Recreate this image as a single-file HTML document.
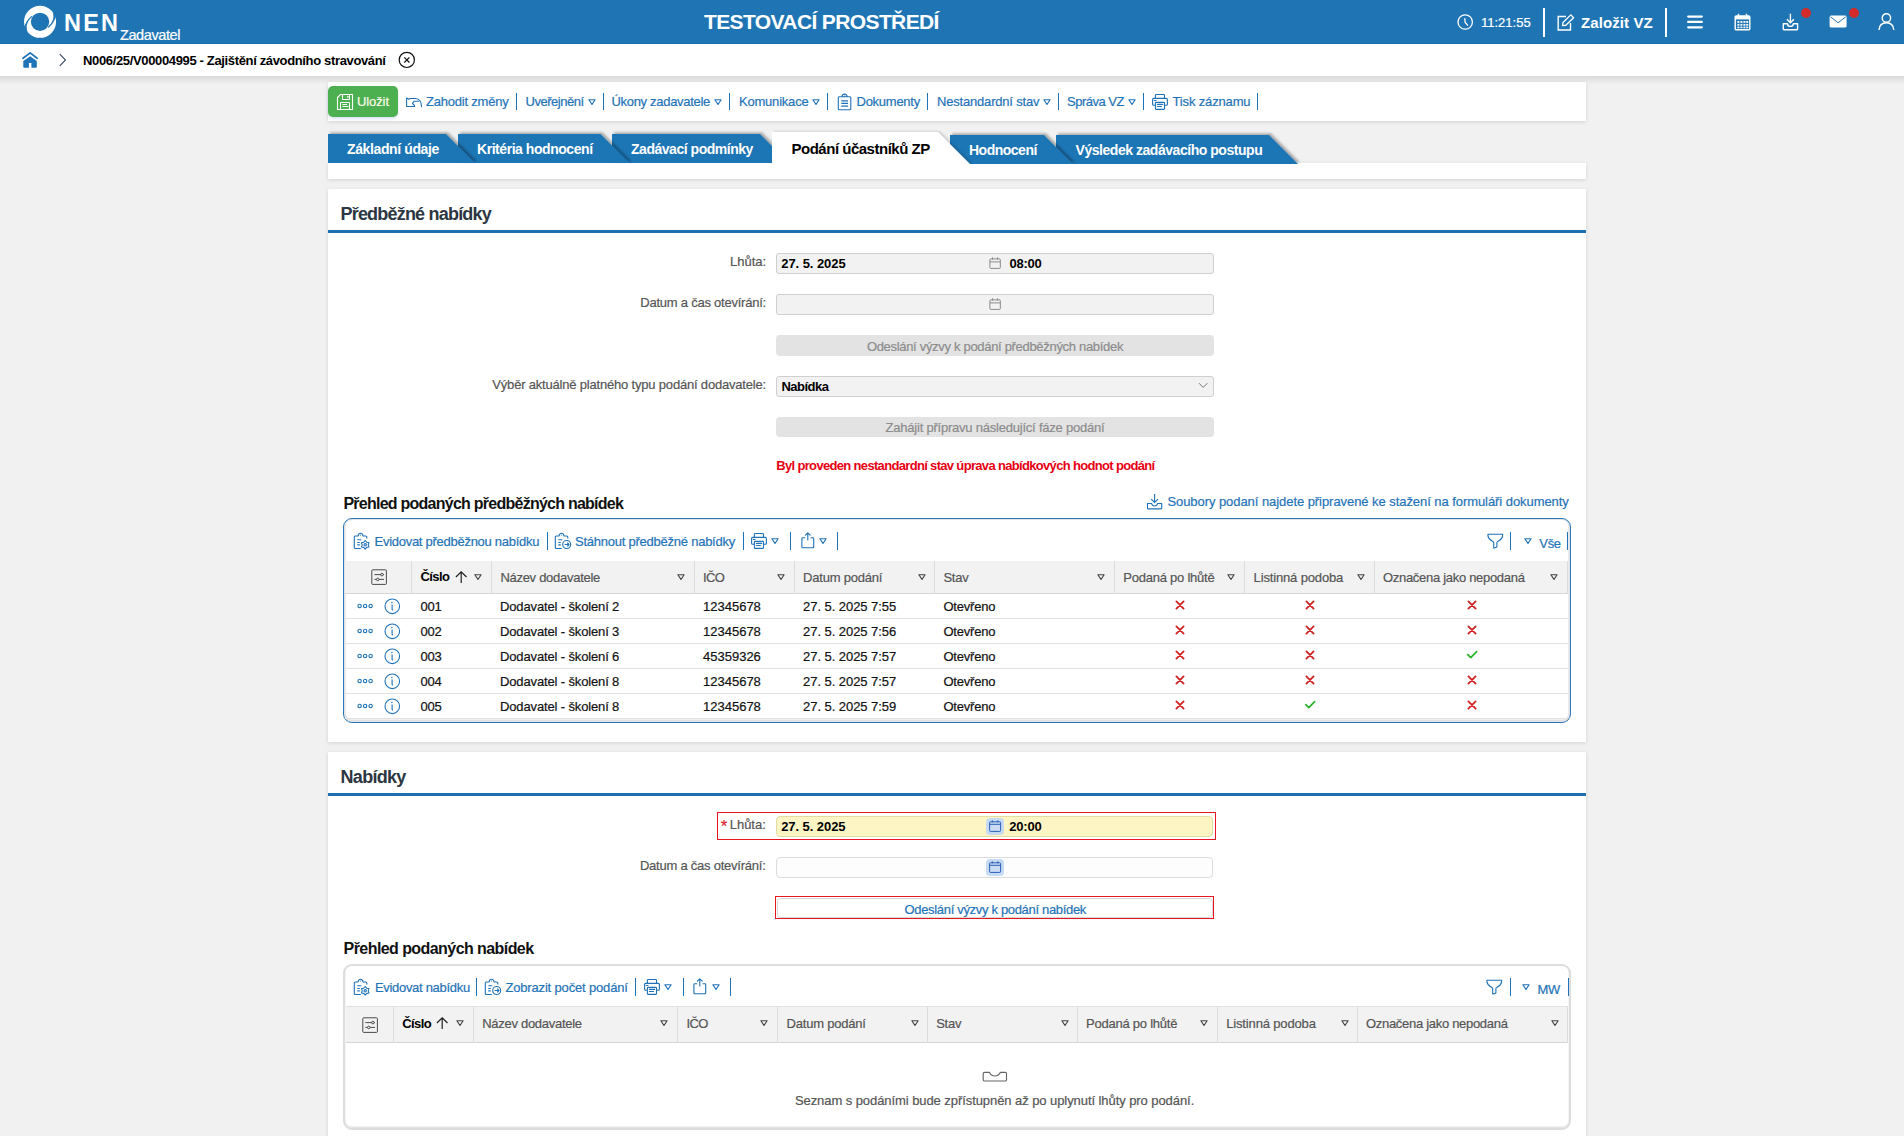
<!DOCTYPE html>
<html><head><meta charset="utf-8">
<style>
*{box-sizing:border-box;margin:0;padding:0}
html,body{width:1904px;height:1136px;overflow:hidden}
body{position:relative;background:#f1f1f1;font-family:"Liberation Sans",sans-serif;font-size:13px;color:#222}
.a{position:absolute}
.t{position:absolute;white-space:nowrap;line-height:1;-webkit-text-stroke:0.2px currentColor}
.t[style*="font-weight:700"]{-webkit-text-stroke:0}
svg{position:absolute;overflow:visible}
#hdr{left:0;top:0;width:1904px;height:44px;background:#1f75b4;border-bottom:1px solid #186aac;box-shadow:0 1px 1px rgba(0,60,120,.25)}
#bc{left:0;top:44px;width:1904px;height:32px;background:#fff}
#bcsh{left:0;top:76px;width:1904px;height:8px;background:linear-gradient(#d9d9d9,#f1f1f1)}
.card{position:absolute;background:#fff;box-shadow:0 1px 4px rgba(0,0,0,.13)}
.lnk{color:#1f73b7}
.sep{position:absolute;width:1px;background:#1f73b7}
.tri{position:absolute;width:0;height:0}
</style></head><body>
<!-- HEADER -->
<div id="hdr" class="a"></div>
<svg style="left:0;top:0" width="70" height="44" viewBox="0 0 70 44">
 <circle cx="40.05" cy="21.85" r="12.6" fill="none" stroke="#fff" stroke-width="6.8"/>
 <path d="M24.1 27.6 Q25.6 21.2 31.3 15.9 L32.5 16.6 Q27.7 20.8 26.7 25.6 Q26.4 29.5 27.6 32.6 Z" fill="#1f75b4"/>
 <path d="M56 16.1 Q54.5 22.5 48.8 27.8 L47.6 27.1 Q52.4 22.9 53.4 18.1 Q53.7 14.2 52.5 11.1 Z" fill="#1f75b4"/>
</svg>
<div class="t" style="left:64px;top:12px;font-size:23.5px;font-weight:700;color:#fff;letter-spacing:2.2px">NEN</div>
<div class="t" style="left:120px;top:28px;font-size:14.5px;color:#fff;letter-spacing:-0.4px">Zadavatel</div>
<div class="t" style="left:704px;top:11px;font-size:21px;font-weight:700;color:#fff;letter-spacing:-0.62px">TESTOVACÍ PROSTŘEDÍ</div>
<!-- header right -->
<svg style="left:1457px;top:14px" width="17" height="17" viewBox="0 0 17 17"><circle cx="8.2" cy="8" r="7.2" fill="none" stroke="#fff" stroke-width="1.3"/><path d="M7.8 4.6 L8.2 8.4 L10.6 11.2" fill="none" stroke="#fff" stroke-width="1.3" stroke-linecap="round"/></svg>
<div class="t" style="left:1481px;top:16px;font-size:13px;color:#fff;letter-spacing:0px">11:21:55</div>
<div class="a" style="left:1543px;top:8px;width:2px;height:29px;background:#fff"></div>
<svg style="left:1557px;top:14px" width="18" height="17" viewBox="0 0 18 17"><path d="M9 2.5 H1.2 V16 H13.5 V9" fill="none" stroke="#fff" stroke-width="1.4"/><path d="M5.5 11.5 L6 8.5 L13.8 0.9 L16.6 3.7 L8.8 11.3 Z" fill="none" stroke="#fff" stroke-width="1.3" stroke-linejoin="round"/></svg>
<div class="t" style="left:1581px;top:15px;font-size:15px;font-weight:700;color:#fff;letter-spacing:0.1px">Založit VZ</div>
<div class="a" style="left:1665px;top:8px;width:2px;height:29px;background:#fff"></div>
<svg style="left:1687px;top:15px" width="16" height="14" viewBox="0 0 16 14"><path d="M1.2 1.6 H14.8 M1.2 6.9 H14.8 M1.2 12.3 H14.8" stroke="#fff" stroke-width="2.3" stroke-linecap="round"/></svg>
<svg style="left:1734px;top:13px" width="17" height="18" viewBox="0 0 17 18"><rect x="1.2" y="3" width="14.6" height="13.8" rx="1" fill="none" stroke="#fff" stroke-width="1.4"/><rect x="1.2" y="3" width="14.6" height="3.4" fill="#fff"/><path d="M4.5 0.8 V4 M12.5 0.8 V4" stroke="#fff" stroke-width="1.4"/><g fill="#fff"><rect x="3.4" y="8" width="2" height="1.8"/><rect x="6.4" y="8" width="2" height="1.8"/><rect x="9.4" y="8" width="2" height="1.8"/><rect x="12.2" y="8" width="2" height="1.8"/><rect x="3.4" y="10.9" width="2" height="1.8"/><rect x="6.4" y="10.9" width="2" height="1.8"/><rect x="9.4" y="10.9" width="2" height="1.8"/><rect x="12.2" y="10.9" width="2" height="1.8"/><rect x="3.4" y="13.6" width="2" height="1.6"/><rect x="6.4" y="13.6" width="2" height="1.6"/><rect x="9.4" y="13.6" width="2" height="1.6"/><rect x="12.2" y="13.6" width="2" height="1.6"/></g></svg>
<svg style="left:1782px;top:13px" width="17" height="18" viewBox="0 0 17 18"><path d="M8.4 0.8 V9.5 M4.9 6.3 L8.4 9.8 L11.9 6.3" fill="none" stroke="#fff" stroke-width="1.4"/><path d="M1.3 10.8 V16.1 Q1.3 16.7 1.9 16.7 H15 Q15.6 16.7 15.6 16.1 V10.8 H11.3 Q11 13.4 8.4 13.4 Q5.8 13.4 5.5 10.8 Z" fill="none" stroke="#fff" stroke-width="1.4" stroke-linejoin="round"/></svg>
<div class="a" style="left:1801px;top:8px;width:10px;height:10px;border-radius:50%;background:#d12b2b"></div>
<svg style="left:1829px;top:15px" width="19" height="14" viewBox="0 0 19 14"><rect x="0.6" y="0.6" width="17" height="12" rx="1.5" fill="#fff"/><path d="M1.5 1.8 L9.1 7.8 L16.7 1.8" fill="none" stroke="#1f75b4" stroke-width="1"/></svg>
<div class="a" style="left:1849px;top:8px;width:10px;height:10px;border-radius:50%;background:#d12b2b"></div>
<svg style="left:1878px;top:13px" width="17" height="18" viewBox="0 0 17 18"><circle cx="8.4" cy="5" r="4.2" fill="none" stroke="#fff" stroke-width="1.4"/><path d="M1 17 Q1.5 9.8 8.4 9.8 Q15.3 9.8 15.8 17" fill="none" stroke="#fff" stroke-width="1.4"/></svg>
<div id="bc" class="a"></div>
<svg style="left:21px;top:51px" width="18" height="18" viewBox="0 0 18 18"><path d="M2 7.3 L9.2 1.9 L16.1 7.3" fill="none" stroke="#1f73b7" stroke-width="1.8" stroke-linecap="round" stroke-linejoin="round"/><path d="M2.3 10.1 L9.2 5.2 L15.8 10.1 V16 Q15.8 16.8 15 16.8 H10.4 V12.1 H7.9 V16.8 H3.1 Q2.3 16.8 2.3 16 Z" fill="#1f73b7"/></svg>
<svg style="left:58px;top:53px" width="10" height="14" viewBox="0 0 10 14"><path d="M1.8 1.1 L7.5 7 L1.8 12.8" fill="none" stroke="#3b4a5e" stroke-width="1.1"/></svg>
<div class="t" style="left:83px;top:54px;font-size:13px;font-weight:700;color:#000;letter-spacing:-0.35px">N006/25/V00004995 - Zajištění závodního stravování</div>
<svg style="left:398px;top:51px" width="18" height="18" viewBox="0 0 18 18"><circle cx="8.8" cy="8.9" r="7.6" fill="none" stroke="#111" stroke-width="1.2"/><path d="M6.3 6.4 L11.4 11.5 M11.4 6.4 L6.3 11.5" stroke="#111" stroke-width="1.2"/></svg>
<div id="bcsh" class="a"></div>
<!-- TOOLBAR -->
<div class="card" style="left:328px;top:82px;width:1258px;height:39px"></div>
<div class="a" style="left:328px;top:86px;width:70px;height:31px;border-radius:5px;background:#4caf50;box-shadow:0 2px 3px rgba(60,100,200,.18)"></div>
<svg style="left:336px;top:93px" width="18" height="18" viewBox="0 0 18 18"><path d="M1.5 4.5 L4.5 1.5 H16.5 V16.5 H1.5 Z" fill="none" stroke="#fff" stroke-width="1.1" stroke-linejoin="round"/><path d="M6.5 1.5 V6.5 H13.5 V1.5" fill="none" stroke="#fff" stroke-width="1"/><rect x="11.2" y="2.8" width="1.3" height="2" fill="#fff"/><path d="M4.5 16.5 V9.5 H13.5 V16.5" fill="none" stroke="#fff" stroke-width="1"/><path d="M6.4 11.5 H11 M6.4 13.5 H12.6" stroke="#fff" stroke-width="1"/></svg>
<div class="t" style="left:357px;top:95px;color:#fbfbe8;letter-spacing:-0.1px">Uložit</div>
<svg style="left:402px;top:93px" width="24" height="18" viewBox="0 0 24 18"><path d="M4.6 13.5 V5.6 Q4.6 4.9 5.3 5.3 L6.7 6.3 L8.2 5.5 H13.6 C17.4 5.5 19.5 9.2 19.5 13.6" fill="none" stroke="#1f72b8" stroke-width="1.1" stroke-linejoin="round" stroke-linecap="round"/><path d="M17.2 8.2 H12.4 L10.4 10.3 L12.5 12.5 V13.5 H4.6" fill="none" stroke="#1f72b8" stroke-width="1.1" stroke-linejoin="round"/></svg>
<div class="t lnk" style="left:426px;top:95px;letter-spacing:-0.21px;">Zahodit změny</div><div class="a" style="left:516px;top:93px;width:1.2px;height:17px;background:#1f72b8"></div><div class="t lnk" style="left:525.5px;top:95px;letter-spacing:-0.48px;">Uveřejnění</div><svg style="left:588px;top:99px" width="8" height="7" viewBox="0 0 8 7"><path d="M0.9 0.7 H7.1 L4 5.5 Z" fill="none" stroke="#1f72b8" stroke-width="1.15" stroke-linejoin="round"/></svg><div class="a" style="left:603px;top:93px;width:1.2px;height:17px;background:#1f72b8"></div><div class="t lnk" style="left:611.5px;top:95px;letter-spacing:-0.31px;">Úkony zadavatele</div><svg style="left:714px;top:99px" width="8" height="7" viewBox="0 0 8 7"><path d="M0.9 0.7 H7.1 L4 5.5 Z" fill="none" stroke="#1f72b8" stroke-width="1.15" stroke-linejoin="round"/></svg><div class="a" style="left:729px;top:93px;width:1.2px;height:17px;background:#1f72b8"></div><div class="t lnk" style="left:739px;top:95px;letter-spacing:-0.21px;">Komunikace</div><svg style="left:812px;top:99px" width="8" height="7" viewBox="0 0 8 7"><path d="M0.9 0.7 H7.1 L4 5.5 Z" fill="none" stroke="#1f72b8" stroke-width="1.15" stroke-linejoin="round"/></svg><div class="a" style="left:826.5px;top:93px;width:1.2px;height:17px;background:#1f72b8"></div><svg style="left:834px;top:90px" width="22" height="22" viewBox="0 0 22 22"><path d="M7.8 6.8 H5.3 Q4.3 6.8 4.3 7.8 V18.8 Q4.3 19.8 5.3 19.8 H15.8 Q16.8 19.8 16.8 18.8 V7.8 Q16.8 6.8 15.8 6.8 H13.2 M7.8 6.8 Q8.2 4.1 10.5 4.1 Q12.8 4.1 13.2 6.8 Z" fill="none" stroke="#1f72b8" stroke-width="1.1" stroke-linejoin="round"/><path d="M7.3 10.9 H14 M7.3 13.4 H14 M7.3 16.1 H14" stroke="#1f72b8" stroke-width="1.1"/><circle cx="10.5" cy="6.2" r="0.6" fill="#1f72b8"/></svg>
<div class="t lnk" style="left:856.5px;top:95px;letter-spacing:-0.26px;">Dokumenty</div><div class="a" style="left:927px;top:93px;width:1.2px;height:17px;background:#1f72b8"></div><div class="t lnk" style="left:937px;top:95px;letter-spacing:-0.19px;">Nestandardní stav</div><svg style="left:1043px;top:99px" width="8" height="7" viewBox="0 0 8 7"><path d="M0.9 0.7 H7.1 L4 5.5 Z" fill="none" stroke="#1f72b8" stroke-width="1.15" stroke-linejoin="round"/></svg><div class="a" style="left:1058px;top:93px;width:1.2px;height:17px;background:#1f72b8"></div><div class="t lnk" style="left:1067px;top:95px;letter-spacing:-0.5px;">Správa VZ</div><svg style="left:1128px;top:99px" width="8" height="7" viewBox="0 0 8 7"><path d="M0.9 0.7 H7.1 L4 5.5 Z" fill="none" stroke="#1f72b8" stroke-width="1.15" stroke-linejoin="round"/></svg><div class="a" style="left:1143px;top:93px;width:1.2px;height:17px;background:#1f72b8"></div><svg style="left:1149px;top:91px" width="22" height="22" viewBox="0 0 22 22"><path d="M6.4 7.4 V4.3 Q6.4 3.5 7.2 3.5 H14.7 Q15.5 3.5 15.5 4.3 V7.4" fill="none" stroke="#1f72b8" stroke-width="1.1"/><path d="M6.4 14.3 H4.6 Q3.6 14.3 3.6 13.3 V8.4 Q3.6 7.4 4.6 7.4 H17.4 Q18.4 7.4 18.4 8.4 V13.3 Q18.4 14.3 17.4 14.3 H15.5" fill="none" stroke="#1f72b8" stroke-width="1.1"/><rect x="6.4" y="11.4" width="9.1" height="7" rx="0.6" fill="none" stroke="#1f72b8" stroke-width="1.1"/><path d="M5.3 9.5 H7 M8.4 13.4 H13.7 M8.4 15.5 H12.5" stroke="#1f72b8" stroke-width="1.1" stroke-linecap="round"/></svg><div class="t lnk" style="left:1172.5px;top:95px;letter-spacing:-0.15px;">Tisk záznamu</div><div class="a" style="left:1257px;top:93px;width:1.2px;height:17px;background:#1f72b8"></div>
<!-- TABS -->
<div class="card" style="left:328px;top:163px;width:1258px;height:16px"></div>
<svg style="left:0;top:0" width="1400" height="200" viewBox="0 0 1400 200">
<defs><filter id="ts" x="-5%" y="-30%" width="110%" height="160%"><feDropShadow dx="2" dy="-1.6" stdDeviation="0.9" flood-color="#000" flood-opacity="0.3"/></filter><filter id="ta" x="-5%" y="-30%" width="110%" height="160%"><feDropShadow dx="2" dy="-0.6" stdDeviation="1.1" flood-color="#000" flood-opacity="0.16"/></filter></defs>
<rect x="328" y="163" width="1258" height="16" fill="#fff"/>
<polygon points="1056,135 1269,135 1298,164 1056,164" fill="#1f75b4" filter="url(#ts)"/>
<polygon points="950,135 1044,135 1073,164 950,164" fill="#1f75b4" filter="url(#ts)"/>
<polygon points="612,134 760,134 789,163 612,163" fill="#1f75b4" filter="url(#ts)"/>
<polygon points="458,134 600.5,134 629.5,163 458,163" fill="#1f75b4" filter="url(#ts)"/>
<polygon points="328,134 446,134 475,163 328,163" fill="#1f75b4" filter="url(#ts)"/>
<polygon points="772,132 938,132 970,164 772,164" fill="#fff" filter="url(#ta)"/>
<rect x="328" y="164" width="1258" height="15" fill="#fff"/>
</svg>
<div class="t" style="left:347px;top:141.8px;font-size:14px;font-weight:700;color:#fff;letter-spacing:-0.38px">Základní údaje</div>
<div class="t" style="left:477px;top:141.8px;font-size:14px;font-weight:700;color:#fff;letter-spacing:-0.45px">Kritéria hodnocení</div>
<div class="t" style="left:631px;top:141.8px;font-size:14px;font-weight:700;color:#fff;letter-spacing:-0.47px">Zadávací podmínky</div>
<div class="t" style="left:791.5px;top:141.1px;font-size:15px;font-weight:700;color:#000;letter-spacing:-0.49px">Podání účastníků ZP</div>
<div class="t" style="left:969px;top:143px;font-size:14px;font-weight:700;color:#fff;letter-spacing:-0.5px">Hodnocení</div>
<div class="t" style="left:1075.5px;top:143px;font-size:14px;font-weight:700;color:#fff;letter-spacing:-0.46px">Výsledek zadávacího postupu</div>
<!-- CARD 1 -->
<div class="card" style="left:328px;top:189px;width:1258px;height:553px"></div>
<div class="t" style="left:340.5px;top:204.8px;font-size:18px;font-weight:700;color:#2b3642;letter-spacing:-0.8px">Předběžné nabídky</div>
<div class="a" style="left:328px;top:230px;width:1258px;height:3px;background:#1e6fb0"></div>
<div class="t" style="right:1138px;top:254.8px;color:#555;letter-spacing:-0.04px">Lhůta:</div>
<div class="a" style="left:776px;top:253px;width:438px;height:21px;border:1px solid #cfcfcf;border-radius:3px;background:#f2f2f2"></div>
<div class="t" style="left:781.3px;top:256.7px;font-weight:700;color:#000;letter-spacing:-0.07px">27. 5. 2025</div>
<svg style="left:989px;top:256.5px" width="13" height="13" viewBox="0 0 13 13"><rect x="0.9" y="1.9" width="10.4" height="9.5" rx="0.8" fill="none" stroke="#8a8a8a" stroke-width="1"/><path d="M0.9 4.9 H11.3 M3.5 0.3 V2.6 M8.6 0.3 V2.6" stroke="#8a8a8a" stroke-width="1"/></svg><div class="t" style="left:1009.5px;top:256.7px;font-weight:700;color:#000;letter-spacing:-0.23px">08:00</div>
<div class="t" style="right:1138px;top:295.8px;color:#555;letter-spacing:-0.23px">Datum a čas otevírání:</div>
<div class="a" style="left:776px;top:294px;width:438px;height:21px;border:1px solid #cfcfcf;border-radius:3px;background:#f2f2f2"></div>
<svg style="left:989px;top:297.5px" width="13" height="13" viewBox="0 0 13 13"><rect x="0.9" y="1.9" width="10.4" height="9.5" rx="0.8" fill="none" stroke="#8a8a8a" stroke-width="1"/><path d="M0.9 4.9 H11.3 M3.5 0.3 V2.6 M8.6 0.3 V2.6" stroke="#8a8a8a" stroke-width="1"/></svg><div class="a" style="left:776px;top:335px;width:438px;height:21px;border-radius:4px;background:#e3e3e3"></div>
<div class="t" style="left:776px;width:438px;text-align:center;top:340px;color:#8c8c8c;letter-spacing:-0.31px">Odeslání výzvy k podání předběžných nabídek</div>
<div class="t" style="right:1138px;top:378.1px;color:#555;letter-spacing:-0.19px">Výběr aktuálně platného typu podání dodavatele:</div>
<div class="a" style="left:776px;top:376px;width:438px;height:21px;border:1px solid #cfcfcf;border-radius:3px;background:#f2f2f2"></div>
<div class="t" style="left:781.5px;top:380.1px;font-weight:700;color:#000;letter-spacing:-0.52px">Nabídka</div>
<svg style="left:1198px;top:382px" width="11" height="8" viewBox="0 0 11 8"><path d="M1 1.2 L5.2 5.4 L9.4 1.2" fill="none" stroke="#777" stroke-width="1"/></svg>
<div class="a" style="left:776px;top:417px;width:438px;height:20px;border-radius:4px;background:#e3e3e3"></div>
<div class="t" style="left:776px;width:438px;text-align:center;top:421px;color:#8c8c8c;letter-spacing:-0.22px">Zahájit přípravu následující fáze podání</div>
<div class="t" style="left:776.3px;top:459.2px;font-weight:700;color:#e60012;letter-spacing:-0.67px">Byl proveden nestandardní stav úprava nabídkových hodnot podání</div>
<!-- CARD1 TABLE -->
<div class="t" style="left:343.4px;top:496px;font-size:16px;font-weight:700;color:#111;letter-spacing:-0.75px">Přehled podaných předběžných nabídek</div>
<svg style="left:1146px;top:493px" width="18" height="17" viewBox="0 0 18 17"><path d="M8.6 0.9 V9.4 M5.2 6.1 L8.6 9.5 L12 6.1" fill="none" stroke="#1f72b8" stroke-width="1.1"/><path d="M1.5 10.5 V15.3 Q1.5 15.9 2.1 15.9 H15.1 Q15.7 15.9 15.7 15.3 V10.5 H11.5 Q11.2 13 8.6 13 Q6 13 5.7 10.5 Z" fill="none" stroke="#1f72b8" stroke-width="1.1" stroke-linejoin="round"/></svg>
<div class="t lnk" style="left:1167.4px;top:495px;letter-spacing:-0.06px;">Soubory podaní najdete připravené ke stažení na formuláři dokumenty</div>
<div class="a" style="left:343px;top:518px;width:1228px;height:204.5px;border:1.2px solid #2a78bb;border-radius:9px;background:#fff;box-shadow:inset 0 -0.8px 0 1.7px #e3e3e3"></div>
<svg style="left:348.5px;top:528px" width="22" height="22" viewBox="0 0 22 22"><g fill="none" stroke="#1f72b8" stroke-width="1.1" stroke-linejoin="round"><path d="M17.8 10.6 V9 Q17.8 8 16.8 8 H14 Q13.6 5.3 11.5 5.3 Q9.5 5.3 9.1 8 H6.3 Q5.3 8 5.3 9 V19.5 Q5.3 20.5 6.3 20.5 H11.8"/><path d="M8.3 11.8 H12.3 M8.3 14.5 H10.8 M8.3 16.9 H10.8"/><polygon points="16.20,12.50 17.70,14.20 19.92,14.65 19.20,16.80 19.92,18.95 17.70,19.40 16.20,21.10 14.70,19.40 12.48,18.95 13.20,16.80 12.48,14.65 14.70,14.20"/><circle cx="16.2" cy="16.8" r="1.2"/></g><circle cx="11.5" cy="7" r="0.6" fill="#1f72b8"/></svg><div class="t lnk" style="left:374.5px;top:534.8px;letter-spacing:-0.27px;">Evidovat předběžnou nabídku</div><div class="a" style="left:546.5px;top:532px;width:1.2px;height:18px;background:#1f72b8"></div>
<svg style="left:550px;top:528px" width="22" height="22" viewBox="0 0 22 22"><g fill="none" stroke="#1f72b8" stroke-width="1.1" stroke-linejoin="round"><path d="M17.8 10.6 V9 Q17.8 8 16.8 8 H14 Q13.6 5.3 11.5 5.3 Q9.5 5.3 9.1 8 H6.3 Q5.3 8 5.3 9 V19.5 Q5.3 20.5 6.3 20.5 H11.8"/><path d="M8.3 11.8 H12.3 M8.3 14.5 H10.8 M8.3 16.9 H10.8"/><circle cx="16.7" cy="16.5" r="4"/><path d="M14.6 16.5 H19 M17.2 14.7 L19 16.5 L17.2 18.3"/></g><circle cx="11.5" cy="7" r="0.6" fill="#1f72b8"/></svg><div class="t lnk" style="left:575px;top:534.8px;letter-spacing:-0.24px;">Stáhnout předběžné nabídky</div><div class="a" style="left:742.5px;top:532px;width:1.2px;height:18px;background:#1f72b8"></div>
<svg style="left:748px;top:530px" width="22" height="22" viewBox="0 0 22 22"><path d="M6.4 7.4 V4.3 Q6.4 3.5 7.2 3.5 H14.7 Q15.5 3.5 15.5 4.3 V7.4" fill="none" stroke="#1f72b8" stroke-width="1.1"/><path d="M6.4 14.3 H4.6 Q3.6 14.3 3.6 13.3 V8.4 Q3.6 7.4 4.6 7.4 H17.4 Q18.4 7.4 18.4 8.4 V13.3 Q18.4 14.3 17.4 14.3 H15.5" fill="none" stroke="#1f72b8" stroke-width="1.1"/><rect x="6.4" y="11.4" width="9.1" height="7" rx="0.6" fill="none" stroke="#1f72b8" stroke-width="1.1"/><path d="M5.3 9.5 H7 M8.4 13.4 H13.7 M8.4 15.5 H12.5" stroke="#1f72b8" stroke-width="1.1" stroke-linecap="round"/></svg><svg style="left:771px;top:538px" width="8" height="7" viewBox="0 0 8 7"><path d="M0.9 0.7 H7.1 L4 5.5 Z" fill="none" stroke="#1f72b8" stroke-width="1.15" stroke-linejoin="round"/></svg><div class="a" style="left:790.3px;top:532px;width:1.2px;height:18px;background:#1f72b8"></div><svg style="left:800.5px;top:532.3px" width="15" height="17" viewBox="0 0 15 17"><path d="M4.2 5.7 H1.6 Q0.9 5.7 0.9 6.4 V15.1 Q0.9 15.8 1.6 15.8 H12 Q12.7 15.8 12.7 15.1 V6.4 Q12.7 5.7 12 5.7 H9.6" fill="none" stroke="#1f72b8" stroke-width="1.1"/><path d="M6.8 8 V0.9 M4.4 3.2 L6.8 0.8 L9.2 3.2" fill="none" stroke="#1f72b8" stroke-width="1.1" stroke-linecap="round" stroke-linejoin="round"/></svg><svg style="left:819px;top:538px" width="8" height="7" viewBox="0 0 8 7"><path d="M0.9 0.7 H7.1 L4 5.5 Z" fill="none" stroke="#1f72b8" stroke-width="1.15" stroke-linejoin="round"/></svg><div class="a" style="left:837.3px;top:532px;width:1.2px;height:18px;background:#1f72b8"></div>
<svg style="left:1486.9px;top:532.9px" width="17" height="16" viewBox="0 0 17 16"><path d="M0.9 1.2 H15.7 Q16 5.8 10.7 8.4 Q9.9 8.8 9.9 9.8 V13.9 L7.3 15.1 Q6.7 15.3 6.7 14.7 V9.8 Q6.7 8.8 5.9 8.4 Q0.6 5.8 0.9 1.2 Z" fill="none" stroke="#1f72b8" stroke-width="1.1" stroke-linejoin="round"/></svg><div class="a" style="left:1510.3px;top:532px;width:1.2px;height:18px;background:#1f72b8"></div><svg style="left:1523.5px;top:538.3px" width="8" height="7" viewBox="0 0 8 7"><path d="M0.9 0.7 H7.1 L4 5.5 Z" fill="none" stroke="#1f72b8" stroke-width="1.15" stroke-linejoin="round"/></svg><div class="t lnk" style="left:1539.3px;top:536.8px;letter-spacing:-0.33px;">Vše</div><div class="a" style="left:1567.3px;top:532px;width:1.2px;height:18px;background:#1f72b8"></div>
<div class="a" style="left:344.5px;top:560.5px;width:1223.5px;height:33px;background:#f2f2f2;border-bottom:1px solid #d6d6d6"></div>
<div class="a" style="left:411.0px;top:560.5px;width:1px;height:33px;background:#dcdcdc"></div><div class="a" style="left:491.0px;top:560.5px;width:1px;height:33px;background:#dcdcdc"></div><div class="a" style="left:694.0px;top:560.5px;width:1px;height:33px;background:#dcdcdc"></div><div class="a" style="left:794.0px;top:560.5px;width:1px;height:33px;background:#dcdcdc"></div><div class="a" style="left:934.0px;top:560.5px;width:1px;height:33px;background:#dcdcdc"></div><div class="a" style="left:1114.0px;top:560.5px;width:1px;height:33px;background:#dcdcdc"></div><div class="a" style="left:1244.0px;top:560.5px;width:1px;height:33px;background:#dcdcdc"></div><div class="a" style="left:1374.0px;top:560.5px;width:1px;height:33px;background:#dcdcdc"></div><div class="a" style="left:1567.0px;top:560.5px;width:1px;height:33px;background:#dcdcdc"></div>
<svg style="left:371px;top:569px" width="17" height="17" viewBox="0 0 17 17"><rect x="0.8" y="0.8" width="14.6" height="14.6" rx="0.8" fill="none" stroke="#4a4a4a" stroke-width="1"/><path d="M3.4 5.6 H9.6 M12.2 5.6 H13 M3.4 10.4 H5.4 M8.1 10.4 H13" stroke="#4a4a4a" stroke-width="1"/><circle cx="10.9" cy="5.6" r="1.3" fill="none" stroke="#4a4a4a" stroke-width="1"/><circle cx="6.8" cy="10.4" r="1.3" fill="none" stroke="#4a4a4a" stroke-width="1"/></svg>
<div class="t" style="left:420.4px;top:570.3px;font-weight:700;color:#000;letter-spacing:-0.58px">Číslo</div><svg style="left:454.5px;top:571px" width="13" height="13" viewBox="0 0 13 13"><path d="M6.2 12 V0.9 M0.9 6 L6.2 0.8 L11.5 6" fill="none" stroke="#222" stroke-width="1.2"/></svg><svg style="left:474px;top:574px" width="8" height="7" viewBox="0 0 8 7"><path d="M0.9 0.7 H7.1 L4 5.5 Z" fill="none" stroke="#444" stroke-width="1.15" stroke-linejoin="round"/></svg>
<div class="t" style="left:500.4px;top:570.9px;color:#555;letter-spacing:-0.28px">Název dodavatele</div><svg style="left:677.4px;top:574px" width="8" height="7" viewBox="0 0 8 7"><path d="M0.9 0.7 H7.1 L4 5.5 Z" fill="none" stroke="#444" stroke-width="1.15" stroke-linejoin="round"/></svg>
<div class="t" style="left:703px;top:570.9px;color:#555;letter-spacing:-0.6px">IČO</div><svg style="left:777.4px;top:574px" width="8" height="7" viewBox="0 0 8 7"><path d="M0.9 0.7 H7.1 L4 5.5 Z" fill="none" stroke="#444" stroke-width="1.15" stroke-linejoin="round"/></svg>
<div class="t" style="left:803.1px;top:570.9px;color:#555;letter-spacing:-0.21px">Datum podání</div><svg style="left:917.6px;top:574px" width="8" height="7" viewBox="0 0 8 7"><path d="M0.9 0.7 H7.1 L4 5.5 Z" fill="none" stroke="#444" stroke-width="1.15" stroke-linejoin="round"/></svg>
<div class="t" style="left:943.4px;top:570.9px;color:#555;letter-spacing:-0.25px">Stav</div><svg style="left:1097.2px;top:574px" width="8" height="7" viewBox="0 0 8 7"><path d="M0.9 0.7 H7.1 L4 5.5 Z" fill="none" stroke="#444" stroke-width="1.15" stroke-linejoin="round"/></svg>
<div class="t" style="left:1123.2px;top:570.9px;color:#555;letter-spacing:-0.23px">Podaná po lhůtě</div><svg style="left:1227.4px;top:574px" width="8" height="7" viewBox="0 0 8 7"><path d="M0.9 0.7 H7.1 L4 5.5 Z" fill="none" stroke="#444" stroke-width="1.15" stroke-linejoin="round"/></svg>
<div class="t" style="left:1253.6px;top:570.9px;color:#555;letter-spacing:-0.15px">Listinná podoba</div><svg style="left:1357.3px;top:574px" width="8" height="7" viewBox="0 0 8 7"><path d="M0.9 0.7 H7.1 L4 5.5 Z" fill="none" stroke="#444" stroke-width="1.15" stroke-linejoin="round"/></svg>
<div class="t" style="left:1383px;top:570.9px;color:#555;letter-spacing:-0.3px">Označena jako nepodaná</div><svg style="left:1550.3px;top:574px" width="8" height="7" viewBox="0 0 8 7"><path d="M0.9 0.7 H7.1 L4 5.5 Z" fill="none" stroke="#444" stroke-width="1.15" stroke-linejoin="round"/></svg>
<div class="a" style="left:345px;top:618px;width:1223px;height:1px;background:#e3e3e3"></div><svg style="left:357.2px;top:602.7px" width="18" height="6" viewBox="0 0 18 6"><g fill="none" stroke="#1f72b8" stroke-width="1.1"><circle cx="2.6" cy="3" r="1.7"/><circle cx="8.1" cy="3" r="1.7"/><circle cx="13.6" cy="3" r="1.7"/></g></svg><svg style="left:383.7px;top:597.6px" width="17" height="17" viewBox="0 0 17 17"><circle cx="8.3" cy="8.3" r="7.3" fill="none" stroke="#1f72b8" stroke-width="1.1"/><circle cx="7.9" cy="4.6" r="0.75" fill="#1f72b8"/><path d="M7.5 7 H8.1 V11.2 Q8.1 12 9 11.8" fill="none" stroke="#1f72b8" stroke-width="1.1"/></svg><div class="t" style="left:420.4px;top:599.9px;color:#111;letter-spacing:-0.23px">001</div><div class="t" style="left:500px;top:599.9px;color:#111;letter-spacing:-0.14px">Dodavatel - školení 2</div><div class="t" style="left:703px;top:599.9px;color:#111;letter-spacing:0px">12345678</div><div class="t" style="left:803.1px;top:599.9px;color:#111;letter-spacing:-0.06px">27. 5. 2025 7:55</div><div class="t" style="left:943.4px;top:599.9px;color:#111;letter-spacing:-0.19px">Otevřeno</div><svg style="left:1175.4px;top:600px" width="10" height="10" viewBox="0 0 10 10"><path d="M1.4 1.4 L8.6 8.6 M8.6 1.4 L1.4 8.6" stroke="#d02121" stroke-width="1.8" stroke-linecap="round"/></svg><svg style="left:1305.2px;top:600px" width="10" height="10" viewBox="0 0 10 10"><path d="M1.4 1.4 L8.6 8.6 M8.6 1.4 L1.4 8.6" stroke="#d02121" stroke-width="1.8" stroke-linecap="round"/></svg><svg style="left:1466.8px;top:600px" width="10" height="10" viewBox="0 0 10 10"><path d="M1.4 1.4 L8.6 8.6 M8.6 1.4 L1.4 8.6" stroke="#d02121" stroke-width="1.8" stroke-linecap="round"/></svg>
<div class="a" style="left:345px;top:643px;width:1223px;height:1px;background:#e3e3e3"></div><svg style="left:357.2px;top:627.7px" width="18" height="6" viewBox="0 0 18 6"><g fill="none" stroke="#1f72b8" stroke-width="1.1"><circle cx="2.6" cy="3" r="1.7"/><circle cx="8.1" cy="3" r="1.7"/><circle cx="13.6" cy="3" r="1.7"/></g></svg><svg style="left:383.7px;top:622.6px" width="17" height="17" viewBox="0 0 17 17"><circle cx="8.3" cy="8.3" r="7.3" fill="none" stroke="#1f72b8" stroke-width="1.1"/><circle cx="7.9" cy="4.6" r="0.75" fill="#1f72b8"/><path d="M7.5 7 H8.1 V11.2 Q8.1 12 9 11.8" fill="none" stroke="#1f72b8" stroke-width="1.1"/></svg><div class="t" style="left:420.4px;top:624.9px;color:#111;letter-spacing:-0.23px">002</div><div class="t" style="left:500px;top:624.9px;color:#111;letter-spacing:-0.14px">Dodavatel - školení 3</div><div class="t" style="left:703px;top:624.9px;color:#111;letter-spacing:0px">12345678</div><div class="t" style="left:803.1px;top:624.9px;color:#111;letter-spacing:-0.06px">27. 5. 2025 7:56</div><div class="t" style="left:943.4px;top:624.9px;color:#111;letter-spacing:-0.19px">Otevřeno</div><svg style="left:1175.4px;top:625px" width="10" height="10" viewBox="0 0 10 10"><path d="M1.4 1.4 L8.6 8.6 M8.6 1.4 L1.4 8.6" stroke="#d02121" stroke-width="1.8" stroke-linecap="round"/></svg><svg style="left:1305.2px;top:625px" width="10" height="10" viewBox="0 0 10 10"><path d="M1.4 1.4 L8.6 8.6 M8.6 1.4 L1.4 8.6" stroke="#d02121" stroke-width="1.8" stroke-linecap="round"/></svg><svg style="left:1466.8px;top:625px" width="10" height="10" viewBox="0 0 10 10"><path d="M1.4 1.4 L8.6 8.6 M8.6 1.4 L1.4 8.6" stroke="#d02121" stroke-width="1.8" stroke-linecap="round"/></svg>
<div class="a" style="left:345px;top:668px;width:1223px;height:1px;background:#e3e3e3"></div><svg style="left:357.2px;top:652.7px" width="18" height="6" viewBox="0 0 18 6"><g fill="none" stroke="#1f72b8" stroke-width="1.1"><circle cx="2.6" cy="3" r="1.7"/><circle cx="8.1" cy="3" r="1.7"/><circle cx="13.6" cy="3" r="1.7"/></g></svg><svg style="left:383.7px;top:647.6px" width="17" height="17" viewBox="0 0 17 17"><circle cx="8.3" cy="8.3" r="7.3" fill="none" stroke="#1f72b8" stroke-width="1.1"/><circle cx="7.9" cy="4.6" r="0.75" fill="#1f72b8"/><path d="M7.5 7 H8.1 V11.2 Q8.1 12 9 11.8" fill="none" stroke="#1f72b8" stroke-width="1.1"/></svg><div class="t" style="left:420.4px;top:649.9px;color:#111;letter-spacing:-0.23px">003</div><div class="t" style="left:500px;top:649.9px;color:#111;letter-spacing:-0.14px">Dodavatel - školení 6</div><div class="t" style="left:703px;top:649.9px;color:#111;letter-spacing:0px">45359326</div><div class="t" style="left:803.1px;top:649.9px;color:#111;letter-spacing:-0.06px">27. 5. 2025 7:57</div><div class="t" style="left:943.4px;top:649.9px;color:#111;letter-spacing:-0.19px">Otevřeno</div><svg style="left:1175.4px;top:650px" width="10" height="10" viewBox="0 0 10 10"><path d="M1.4 1.4 L8.6 8.6 M8.6 1.4 L1.4 8.6" stroke="#d02121" stroke-width="1.8" stroke-linecap="round"/></svg><svg style="left:1305.2px;top:650px" width="10" height="10" viewBox="0 0 10 10"><path d="M1.4 1.4 L8.6 8.6 M8.6 1.4 L1.4 8.6" stroke="#d02121" stroke-width="1.8" stroke-linecap="round"/></svg><svg style="left:1465.8px;top:650px" width="12" height="10" viewBox="0 0 12 10"><path d="M1.8 4.6 L4.8 7.6 L10.6 1.7" fill="none" stroke="#2db52d" stroke-width="1.8" stroke-linecap="round" stroke-linejoin="round"/></svg>
<div class="a" style="left:345px;top:693px;width:1223px;height:1px;background:#e3e3e3"></div><svg style="left:357.2px;top:677.7px" width="18" height="6" viewBox="0 0 18 6"><g fill="none" stroke="#1f72b8" stroke-width="1.1"><circle cx="2.6" cy="3" r="1.7"/><circle cx="8.1" cy="3" r="1.7"/><circle cx="13.6" cy="3" r="1.7"/></g></svg><svg style="left:383.7px;top:672.6px" width="17" height="17" viewBox="0 0 17 17"><circle cx="8.3" cy="8.3" r="7.3" fill="none" stroke="#1f72b8" stroke-width="1.1"/><circle cx="7.9" cy="4.6" r="0.75" fill="#1f72b8"/><path d="M7.5 7 H8.1 V11.2 Q8.1 12 9 11.8" fill="none" stroke="#1f72b8" stroke-width="1.1"/></svg><div class="t" style="left:420.4px;top:674.9px;color:#111;letter-spacing:-0.23px">004</div><div class="t" style="left:500px;top:674.9px;color:#111;letter-spacing:-0.14px">Dodavatel - školení 8</div><div class="t" style="left:703px;top:674.9px;color:#111;letter-spacing:0px">12345678</div><div class="t" style="left:803.1px;top:674.9px;color:#111;letter-spacing:-0.06px">27. 5. 2025 7:57</div><div class="t" style="left:943.4px;top:674.9px;color:#111;letter-spacing:-0.19px">Otevřeno</div><svg style="left:1175.4px;top:675px" width="10" height="10" viewBox="0 0 10 10"><path d="M1.4 1.4 L8.6 8.6 M8.6 1.4 L1.4 8.6" stroke="#d02121" stroke-width="1.8" stroke-linecap="round"/></svg><svg style="left:1305.2px;top:675px" width="10" height="10" viewBox="0 0 10 10"><path d="M1.4 1.4 L8.6 8.6 M8.6 1.4 L1.4 8.6" stroke="#d02121" stroke-width="1.8" stroke-linecap="round"/></svg><svg style="left:1466.8px;top:675px" width="10" height="10" viewBox="0 0 10 10"><path d="M1.4 1.4 L8.6 8.6 M8.6 1.4 L1.4 8.6" stroke="#d02121" stroke-width="1.8" stroke-linecap="round"/></svg>
<div class="a" style="left:345px;top:718px;width:1223px;height:1px;background:#e3e3e3"></div><svg style="left:357.2px;top:702.7px" width="18" height="6" viewBox="0 0 18 6"><g fill="none" stroke="#1f72b8" stroke-width="1.1"><circle cx="2.6" cy="3" r="1.7"/><circle cx="8.1" cy="3" r="1.7"/><circle cx="13.6" cy="3" r="1.7"/></g></svg><svg style="left:383.7px;top:697.6px" width="17" height="17" viewBox="0 0 17 17"><circle cx="8.3" cy="8.3" r="7.3" fill="none" stroke="#1f72b8" stroke-width="1.1"/><circle cx="7.9" cy="4.6" r="0.75" fill="#1f72b8"/><path d="M7.5 7 H8.1 V11.2 Q8.1 12 9 11.8" fill="none" stroke="#1f72b8" stroke-width="1.1"/></svg><div class="t" style="left:420.4px;top:699.9px;color:#111;letter-spacing:-0.23px">005</div><div class="t" style="left:500px;top:699.9px;color:#111;letter-spacing:-0.14px">Dodavatel - školení 8</div><div class="t" style="left:703px;top:699.9px;color:#111;letter-spacing:0px">12345678</div><div class="t" style="left:803.1px;top:699.9px;color:#111;letter-spacing:-0.06px">27. 5. 2025 7:59</div><div class="t" style="left:943.4px;top:699.9px;color:#111;letter-spacing:-0.19px">Otevřeno</div><svg style="left:1175.4px;top:700px" width="10" height="10" viewBox="0 0 10 10"><path d="M1.4 1.4 L8.6 8.6 M8.6 1.4 L1.4 8.6" stroke="#d02121" stroke-width="1.8" stroke-linecap="round"/></svg><svg style="left:1304.2px;top:700px" width="12" height="10" viewBox="0 0 12 10"><path d="M1.8 4.6 L4.8 7.6 L10.6 1.7" fill="none" stroke="#2db52d" stroke-width="1.8" stroke-linecap="round" stroke-linejoin="round"/></svg><svg style="left:1466.8px;top:700px" width="10" height="10" viewBox="0 0 10 10"><path d="M1.4 1.4 L8.6 8.6 M8.6 1.4 L1.4 8.6" stroke="#d02121" stroke-width="1.8" stroke-linecap="round"/></svg>
<!-- CARD 2 -->
<div class="card" style="left:328px;top:752px;width:1258px;height:400px"></div>
<div class="t" style="left:340.6px;top:767.7px;font-size:18px;font-weight:700;color:#2b3642;letter-spacing:-0.72px">Nabídky</div>
<div class="a" style="left:328px;top:793px;width:1258px;height:3px;background:#1e6fb0"></div>
<div class="a" style="left:717px;top:812px;width:498.5px;height:27.5px;border:1px solid #e8141f"></div>
<div class="t" style="left:720.8px;top:817.7px;color:#d8262c;font-size:17px">*</div>
<div class="t" style="left:729.8px;top:818px;color:#555;letter-spacing:-0.04px">Lhůta:</div>
<div class="a" style="left:776.3px;top:816.2px;width:437.2px;height:20.5px;border:1px solid #e3dba6;border-radius:4px;background:#fdf6c4"></div>
<div class="t" style="left:781.2px;top:819.9px;font-weight:700;color:#000;letter-spacing:-0.07px">27. 5. 2025</div>
<div class="a" style="left:986.3px;top:818.1px;width:17.6px;height:16.5px;border-radius:4px;background:#c6daf4"></div><svg style="left:989.0999999999999px;top:820.1px" width="13" height="13" viewBox="0 0 13 13"><rect x="0.6" y="1.8" width="11" height="9.6" rx="0.8" fill="#c9dcf3" stroke="#2b5fb3" stroke-width="1"/><path d="M0.6 4.3 H11.6 M3.3 0.3 V2.4 M8.9 0.3 V2.4" stroke="#2b5fb3" stroke-width="1"/></svg><div class="t" style="left:1009.3px;top:819.9px;font-weight:700;color:#000;letter-spacing:-0.23px">20:00</div>
<div class="t" style="right:1138.4px;top:859px;color:#555;letter-spacing:-0.23px">Datum a čas otevírání:</div>
<div class="a" style="left:776.3px;top:857.3px;width:437.2px;height:20.4px;border:1px solid #dcdcdc;border-radius:4px;background:#fdfdfd"></div>
<div class="a" style="left:986.3px;top:859.3px;width:17.6px;height:16.5px;border-radius:4px;background:#c6daf4"></div><svg style="left:989.0999999999999px;top:861.3px" width="13" height="13" viewBox="0 0 13 13"><rect x="0.6" y="1.8" width="11" height="9.6" rx="0.8" fill="#c9dcf3" stroke="#2b5fb3" stroke-width="1"/><path d="M0.6 4.3 H11.6 M3.3 0.3 V2.4 M8.9 0.3 V2.4" stroke="#2b5fb3" stroke-width="1"/></svg><div class="a" style="left:777px;top:898.3px;width:435.5px;height:19.8px;border:1px solid #d8d8d8;border-radius:4px;background:#fff;box-shadow:0 1px 2px rgba(0,0,0,.06)"></div>
<div class="a" style="left:775.3px;top:896.3px;width:438.8px;height:23.2px;border:1px solid #e8141f"></div>
<div class="t lnk" style="left:777px;width:436.5px;text-align:center;top:903px;letter-spacing:-0.32px">Odeslání výzvy k podání nabídek</div>
<div class="t" style="left:343.6px;top:941.4px;font-size:16px;font-weight:700;color:#111;letter-spacing:-0.57px">Přehled podaných nabídek</div>
<div class="a" style="left:343px;top:964px;width:1227.5px;height:165.5px;border:2px solid #dcdddf;border-radius:9px;background:#fff;box-shadow:inset 0 -1px 0 0.4px #e2e3e4"></div>
<svg style="left:348.8px;top:973.8px" width="22" height="22" viewBox="0 0 22 22"><g fill="none" stroke="#1f72b8" stroke-width="1.1" stroke-linejoin="round"><path d="M17.8 10.6 V9 Q17.8 8 16.8 8 H14 Q13.6 5.3 11.5 5.3 Q9.5 5.3 9.1 8 H6.3 Q5.3 8 5.3 9 V19.5 Q5.3 20.5 6.3 20.5 H11.8"/><path d="M8.3 11.8 H12.3 M8.3 14.5 H10.8 M8.3 16.9 H10.8"/><polygon points="16.20,12.50 17.70,14.20 19.92,14.65 19.20,16.80 19.92,18.95 17.70,19.40 16.20,21.10 14.70,19.40 12.48,18.95 13.20,16.80 12.48,14.65 14.70,14.20"/><circle cx="16.2" cy="16.8" r="1.2"/></g><circle cx="11.5" cy="7" r="0.6" fill="#1f72b8"/></svg><div class="t lnk" style="left:374.9px;top:981.1px;letter-spacing:-0.3px;">Evidovat nabídku</div><div class="a" style="left:476.2px;top:978.2px;width:1.2px;height:17.59999999999991px;background:#1f72b8"></div>
<svg style="left:480.2px;top:973.8px" width="22" height="22" viewBox="0 0 22 22"><g fill="none" stroke="#1f72b8" stroke-width="1.1" stroke-linejoin="round"><path d="M17.8 10.6 V9 Q17.8 8 16.8 8 H14 Q13.6 5.3 11.5 5.3 Q9.5 5.3 9.1 8 H6.3 Q5.3 8 5.3 9 V19.5 Q5.3 20.5 6.3 20.5 H11.8"/><path d="M8.3 11.8 H12.3 M8.3 14.5 H10.8 M8.3 16.9 H10.8"/><circle cx="16.7" cy="16.5" r="4"/><path d="M14.6 16.5 H19 M17.2 14.7 L19 16.5 L17.2 18.3"/></g><circle cx="11.5" cy="7" r="0.6" fill="#1f72b8"/></svg><div class="t lnk" style="left:505.4px;top:981.1px;letter-spacing:-0.16px;">Zobrazit počet podání</div><div class="a" style="left:635.3px;top:978.2px;width:1.2px;height:17.59999999999991px;background:#1f72b8"></div>
<svg style="left:640.6px;top:975.9px" width="22" height="22" viewBox="0 0 22 22"><path d="M6.4 7.4 V4.3 Q6.4 3.5 7.2 3.5 H14.7 Q15.5 3.5 15.5 4.3 V7.4" fill="none" stroke="#1f72b8" stroke-width="1.1"/><path d="M6.4 14.3 H4.6 Q3.6 14.3 3.6 13.3 V8.4 Q3.6 7.4 4.6 7.4 H17.4 Q18.4 7.4 18.4 8.4 V13.3 Q18.4 14.3 17.4 14.3 H15.5" fill="none" stroke="#1f72b8" stroke-width="1.1"/><rect x="6.4" y="11.4" width="9.1" height="7" rx="0.6" fill="none" stroke="#1f72b8" stroke-width="1.1"/><path d="M5.3 9.5 H7 M8.4 13.4 H13.7 M8.4 15.5 H12.5" stroke="#1f72b8" stroke-width="1.1" stroke-linecap="round"/></svg><svg style="left:664px;top:984.3px" width="8" height="7" viewBox="0 0 8 7"><path d="M0.9 0.7 H7.1 L4 5.5 Z" fill="none" stroke="#1f72b8" stroke-width="1.15" stroke-linejoin="round"/></svg><div class="a" style="left:683.3px;top:978.2px;width:1.2px;height:17.59999999999991px;background:#1f72b8"></div><svg style="left:692.9px;top:978.2px" width="15" height="17" viewBox="0 0 15 17"><path d="M4.2 5.7 H1.6 Q0.9 5.7 0.9 6.4 V15.1 Q0.9 15.8 1.6 15.8 H12 Q12.7 15.8 12.7 15.1 V6.4 Q12.7 5.7 12 5.7 H9.6" fill="none" stroke="#1f72b8" stroke-width="1.1"/><path d="M6.8 8 V0.9 M4.4 3.2 L6.8 0.8 L9.2 3.2" fill="none" stroke="#1f72b8" stroke-width="1.1" stroke-linecap="round" stroke-linejoin="round"/></svg><svg style="left:712px;top:984.3px" width="8" height="7" viewBox="0 0 8 7"><path d="M0.9 0.7 H7.1 L4 5.5 Z" fill="none" stroke="#1f72b8" stroke-width="1.15" stroke-linejoin="round"/></svg><div class="a" style="left:730.3px;top:978.2px;width:1.2px;height:17.59999999999991px;background:#1f72b8"></div>
<svg style="left:1485.6px;top:978.8px" width="17" height="16" viewBox="0 0 17 16"><path d="M0.9 1.2 H15.7 Q16 5.8 10.7 8.4 Q9.9 8.8 9.9 9.8 V13.9 L7.3 15.1 Q6.7 15.3 6.7 14.7 V9.8 Q6.7 8.8 5.9 8.4 Q0.6 5.8 0.9 1.2 Z" fill="none" stroke="#1f72b8" stroke-width="1.1" stroke-linejoin="round"/></svg><div class="a" style="left:1509.5px;top:978.2px;width:1.2px;height:17.59999999999991px;background:#1f72b8"></div><svg style="left:1521.8px;top:984.3px" width="8" height="7" viewBox="0 0 8 7"><path d="M0.9 0.7 H7.1 L4 5.5 Z" fill="none" stroke="#1f72b8" stroke-width="1.15" stroke-linejoin="round"/></svg><div class="t lnk" style="left:1537.5px;top:982.6px;letter-spacing:-0.3px;">MW</div><div class="a" style="left:1567.5px;top:978.2px;width:1.2px;height:17.59999999999991px;background:#1f72b8"></div>
<div class="a" style="left:345.8px;top:1006px;width:1222px;height:37.3px;background:#f2f2f2;border-top:1px solid #e2e2e2;border-bottom:1px solid #d6d6d6"></div>
<div class="a" style="left:392.8px;top:1006.5px;width:1px;height:36.5px;background:#dcdcdc"></div><div class="a" style="left:472.9px;top:1006.5px;width:1px;height:36.5px;background:#dcdcdc"></div><div class="a" style="left:677.0px;top:1006.5px;width:1px;height:36.5px;background:#dcdcdc"></div><div class="a" style="left:776.9px;top:1006.5px;width:1px;height:36.5px;background:#dcdcdc"></div><div class="a" style="left:926.8px;top:1006.5px;width:1px;height:36.5px;background:#dcdcdc"></div><div class="a" style="left:1077.1px;top:1006.5px;width:1px;height:36.5px;background:#dcdcdc"></div><div class="a" style="left:1216.6px;top:1006.5px;width:1px;height:36.5px;background:#dcdcdc"></div><div class="a" style="left:1356.8px;top:1006.5px;width:1px;height:36.5px;background:#dcdcdc"></div><div class="a" style="left:1566.9px;top:1006.5px;width:1px;height:36.5px;background:#dcdcdc"></div>
<svg style="left:362px;top:1016.8px" width="17" height="17" viewBox="0 0 17 17"><rect x="0.8" y="0.8" width="14.6" height="14.6" rx="0.8" fill="none" stroke="#4a4a4a" stroke-width="1"/><path d="M3.4 5.6 H9.6 M12.2 5.6 H13 M3.4 10.4 H5.4 M8.1 10.4 H13" stroke="#4a4a4a" stroke-width="1"/><circle cx="10.9" cy="5.6" r="1.3" fill="none" stroke="#4a4a4a" stroke-width="1"/><circle cx="6.8" cy="10.4" r="1.3" fill="none" stroke="#4a4a4a" stroke-width="1"/></svg>
<div class="t" style="left:402.2px;top:1016.8px;font-weight:700;color:#000;letter-spacing:-0.58px">Číslo</div><svg style="left:436.4px;top:1016.7px" width="13" height="13" viewBox="0 0 13 13"><path d="M6.2 12 V0.9 M0.9 6 L6.2 0.8 L11.5 6" fill="none" stroke="#222" stroke-width="1.2"/></svg><svg style="left:455.8px;top:1019.8px" width="8" height="7" viewBox="0 0 8 7"><path d="M0.9 0.7 H7.1 L4 5.5 Z" fill="none" stroke="#444" stroke-width="1.15" stroke-linejoin="round"/></svg>
<div class="t" style="left:482.2px;top:1016.8px;color:#555;letter-spacing:-0.28px">Název dodavatele</div><svg style="left:660.2px;top:1019.8px" width="8" height="7" viewBox="0 0 8 7"><path d="M0.9 0.7 H7.1 L4 5.5 Z" fill="none" stroke="#444" stroke-width="1.15" stroke-linejoin="round"/></svg>
<div class="t" style="left:686.4px;top:1016.8px;color:#555;letter-spacing:-0.6px">IČO</div><svg style="left:760.2px;top:1019.8px" width="8" height="7" viewBox="0 0 8 7"><path d="M0.9 0.7 H7.1 L4 5.5 Z" fill="none" stroke="#444" stroke-width="1.15" stroke-linejoin="round"/></svg>
<div class="t" style="left:786.6px;top:1016.8px;color:#555;letter-spacing:-0.21px">Datum podání</div><svg style="left:910.7px;top:1019.8px" width="8" height="7" viewBox="0 0 8 7"><path d="M0.9 0.7 H7.1 L4 5.5 Z" fill="none" stroke="#444" stroke-width="1.15" stroke-linejoin="round"/></svg>
<div class="t" style="left:936.2px;top:1016.8px;color:#555;letter-spacing:-0.25px">Stav</div><svg style="left:1060.6px;top:1019.8px" width="8" height="7" viewBox="0 0 8 7"><path d="M0.9 0.7 H7.1 L4 5.5 Z" fill="none" stroke="#444" stroke-width="1.15" stroke-linejoin="round"/></svg>
<div class="t" style="left:1086px;top:1016.8px;color:#555;letter-spacing:-0.23px">Podaná po lhůtě</div><svg style="left:1200.3px;top:1019.8px" width="8" height="7" viewBox="0 0 8 7"><path d="M0.9 0.7 H7.1 L4 5.5 Z" fill="none" stroke="#444" stroke-width="1.15" stroke-linejoin="round"/></svg>
<div class="t" style="left:1226.2px;top:1016.8px;color:#555;letter-spacing:-0.15px">Listinná podoba</div><svg style="left:1340.5px;top:1019.8px" width="8" height="7" viewBox="0 0 8 7"><path d="M0.9 0.7 H7.1 L4 5.5 Z" fill="none" stroke="#444" stroke-width="1.15" stroke-linejoin="round"/></svg>
<div class="t" style="left:1366px;top:1016.8px;color:#555;letter-spacing:-0.3px">Označena jako nepodaná</div><svg style="left:1550.6px;top:1019.8px" width="8" height="7" viewBox="0 0 8 7"><path d="M0.9 0.7 H7.1 L4 5.5 Z" fill="none" stroke="#444" stroke-width="1.15" stroke-linejoin="round"/></svg>
<svg style="left:982px;top:1070.5px" width="26" height="11" viewBox="0 0 26 11"><path d="M2.5 1.3 H7.4 Q9 5 12.9 5 Q16.8 5 18.4 1.3 H23.2 Q24.5 1.3 24.5 2.6 V8.7 Q24.5 10 23.2 10 H2.5 Q1.2 10 1.2 8.7 V2.6 Q1.2 1.3 2.5 1.3 Z" fill="none" stroke="#666" stroke-width="1.15" stroke-linejoin="round"/></svg>
<div class="t" style="left:794.9px;top:1094px;color:#555;letter-spacing:-0.07px">Seznam s podáními bude zpřístupněn až po uplynutí lhůty pro podání.</div>
</body></html>
